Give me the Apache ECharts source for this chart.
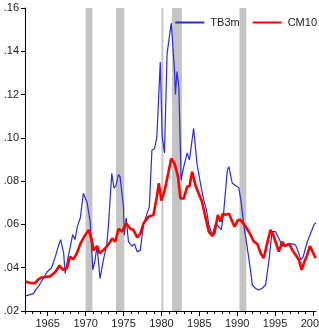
<!DOCTYPE html>
<html>
<head>
<meta charset="utf-8">
<script src="https://cdn.jsdelivr.net/npm/echarts@6/dist/echarts.min.js"></script>
<style>
  html, body { margin: 0; padding: 0; background: #fff; }
  #chart { width: 319px; height: 331px; }
</style>
</head>
<body>
<div id="chart"></div>
<script>
// [year, rate]
const tb3m = [
  [1962.1, .027], [1963.1, .028], [1963.45, .030], [1963.9, .032], [1964.4, .035],
  [1964.9, .038], [1965.5, .040], [1966.0, .045], [1966.4, .050], [1966.7, .053],
  [1967.1, .0467], [1967.3, .0374], [1967.7, .045], [1968.3, .0553], [1968.6, .053],
  [1968.9, .059], [1969.3, .063], [1969.7, .0744], [1970.2, .070], [1970.6, .0613],
  [1970.95, .039], [1971.25, .0436], [1971.5, .050], [1971.9, .035], [1972.35, .0436],
  [1972.8, .051], [1973.0, .059], [1973.45, .0836], [1973.75, .0767], [1974.0, .078],
  [1974.35, .083], [1974.55, .082], [1975.0, .068], [1975.1, .055], [1975.35, .063],
  [1975.65, .052], [1976.1, .050], [1976.45, .051], [1976.8, .0474], [1977.2, .048],
  [1977.65, .060], [1978.1, .065], [1978.4, .068], [1978.75, .0944], [1979.1, .095],
  [1979.4, .1006], [1979.85, .135], [1980.1, .1006], [1980.4, .093], [1980.75, .139],
  [1981.3, .153], [1981.75, .130], [1981.85, .120], [1982.05, .1306], [1982.3, .1236],
  [1982.6, .0805], [1982.95, .0867], [1983.4, .093], [1983.7, .0898], [1984.25, .1044],
  [1984.7, .088], [1985.15, .079], [1985.6, .071], [1985.95, .0667], [1986.25, .060],
  [1986.7, .055], [1987.15, .0605], [1987.55, .059], [1987.9, .0575], [1988.2, .065],
  [1988.7, .085], [1988.9, .0867], [1989.35, .079], [1989.8, .078], [1990.2, .077],
  [1990.5, .071], [1990.9, .059], [1991.3, .050], [1991.75, .039], [1992.0, .032],
  [1992.4, .0305], [1992.85, .0297], [1993.3, .0305], [1993.75, .032], [1994.2, .0436],
  [1994.6, .0567], [1995.05, .0567], [1995.5, .0536], [1995.95, .050], [1996.4, .0505],
  [1996.8, .051], [1997.3, .051], [1997.7, .0505], [1998.0, .048], [1998.4, .0436],
  [1998.7, .045], [1999.25, .052], [1999.7, .056], [2000.15, .060], [2000.4, .0608]
]

const cm10 = [
  [1962.1, .0335], [1962.65, .033], [1963.3, .0328], [1963.75, .0346], [1964.2, .0355],
  [1965.3, .036], [1966.0, .038], [1966.55, .041], [1967.0, .039], [1967.5, .0397],
  [1967.95, .045], [1968.4, .044], [1968.85, .0467], [1969.3, .051], [1969.8, .0543],
  [1970.4, .0575], [1970.75, .0536], [1971.05, .048], [1971.5, .050], [1971.85, .0467],
  [1972.6, .049], [1973.25, .052], [1973.5, .0536], [1973.9, .052], [1974.35, .058],
  [1974.8, .0567], [1975.35, .0605], [1975.9, .058], [1976.3, .0575], [1976.8, .054],
  [1977.2, .0555], [1977.65, .0605], [1978.3, .0636], [1978.95, .0644], [1979.4, .0728],
  [1979.65, .079], [1980.0, .071], [1980.45, .076], [1980.9, .0836], [1981.3, .0905],
  [1981.75, .088], [1982.2, .082], [1982.5, .072], [1982.95, .072], [1983.4, .0775],
  [1983.7, .0775], [1984.05, .0844], [1984.5, .078], [1984.9, .0744], [1985.35, .0705],
  [1985.8, .0636], [1986.25, .0567], [1986.7, .0547], [1987.0, .056], [1987.45, .0644],
  [1987.8, .0613], [1988.1, .065], [1988.45, .0644], [1988.9, .065], [1989.35, .0613],
  [1989.65, .059], [1990.1, .062], [1990.45, .062], [1990.9, .060], [1991.3, .058],
  [1991.75, .0553], [1992.2, .052], [1992.65, .051], [1993.1, .0467], [1993.5, .0444],
  [1994.0, .052], [1994.4, .0575], [1994.75, .0553], [1995.05, .052], [1995.5, .0474],
  [1995.95, .052], [1996.3, .050], [1996.85, .051], [1997.3, .048], [1997.7, .046],
  [1998.15, .0436], [1998.5, .039], [1998.9, .043], [1999.25, .046], [1999.6, .050],
  [1999.95, .0474], [2000.35, .0444]
]

// shaded periods [start, end]
const recessions = [
  [1970.0, 1970.9],
  [1974.0, 1975.1],
  [1980.0, 1980.25],
  [1981.4, 1982.7],
  [1990.3, 1991.2]
]

const majorYears = [1965, 1970, 1975, 1980, 1985, 1990, 1995, 2000]
const minorYears = []
for (let y = 1962; y <= 2000; y++) minorYears.push(y)

const chart = echarts.init(document.getElementById('chart'))
const font = { fontFamily: 'Liberation Sans', fontSize: 11, color: '#222' }
const xMin = 1962
const xMax = 2000.4

chart.setOption({
  animation: false,
  textStyle: { fontFamily: 'Liberation Sans' },
  grid: { left: 25, top: 8, right: 3, bottom: 20, outerBoundsMode: 'none' },
  legend: {
    orient: 'horizontal',
    right: 2,
    top: 17,
    padding: 0,
    itemWidth: 29,
    itemHeight: 2,  // keeps the series symbol hidden under the line
    itemGap: 12,
    textStyle: { ...font, padding: [0, 0, 0, 1] },
    data: ['TB3m', 'CM10']
  },
  xAxis: [
    {
      type: 'value',
      min: xMin,
      max: xMax,
      splitLine: { show: false },
      axisLine: { lineStyle: { color: '#000', width: 1 } },
      axisTick: { customValues: majorYears, length: 5, lineStyle: { color: '#000' } },
      axisLabel: { customValues: majorYears, margin: 7, ...font, formatter: v => String(v) }
    },
    {
      type: 'value',
      position: 'bottom',
      min: xMin,
      max: xMax,
      splitLine: { show: false },
      axisLine: { show: false },
      axisTick: { customValues: minorYears, length: 3, lineStyle: { color: '#000' } },
      axisLabel: { show: false }
    }
  ],
  yAxis: {
    type: 'value',
    min: 0.02,
    max: 0.16,
    interval: 0.02,
    splitLine: { show: false },
    axisLine: { show: true, lineStyle: { color: '#000', width: 1 } },
    axisTick: { show: true, length: 4, lineStyle: { color: '#000' } },
    axisLabel: {
      margin: 6,
      ...font,
      formatter: v => v.toFixed(2).replace(/^0/, '')
    }
  },
  series: [
    {
      name: 'TB3m',
      type: 'line',
      symbol: 'none',
      data: tb3m,
      lineStyle: { color: '#2b2bdc', width: 1.2 },
      itemStyle: { color: '#2b2bdc' },
      markArea: {
        silent: true,
        itemStyle: { color: '#c4c4c4' },
        data: recessions.map(r => [{ xAxis: r[0] }, { xAxis: r[1] }])
      },
      z: 2
    },
    {
      name: 'CM10',
      type: 'line',
      symbol: 'none',
      data: cm10,
      lineStyle: { color: '#ff0000', width: 2.6 },
      itemStyle: { color: '#ff0000' },
      z: 3
    }
  ]
})
</script>
</body>
</html>
